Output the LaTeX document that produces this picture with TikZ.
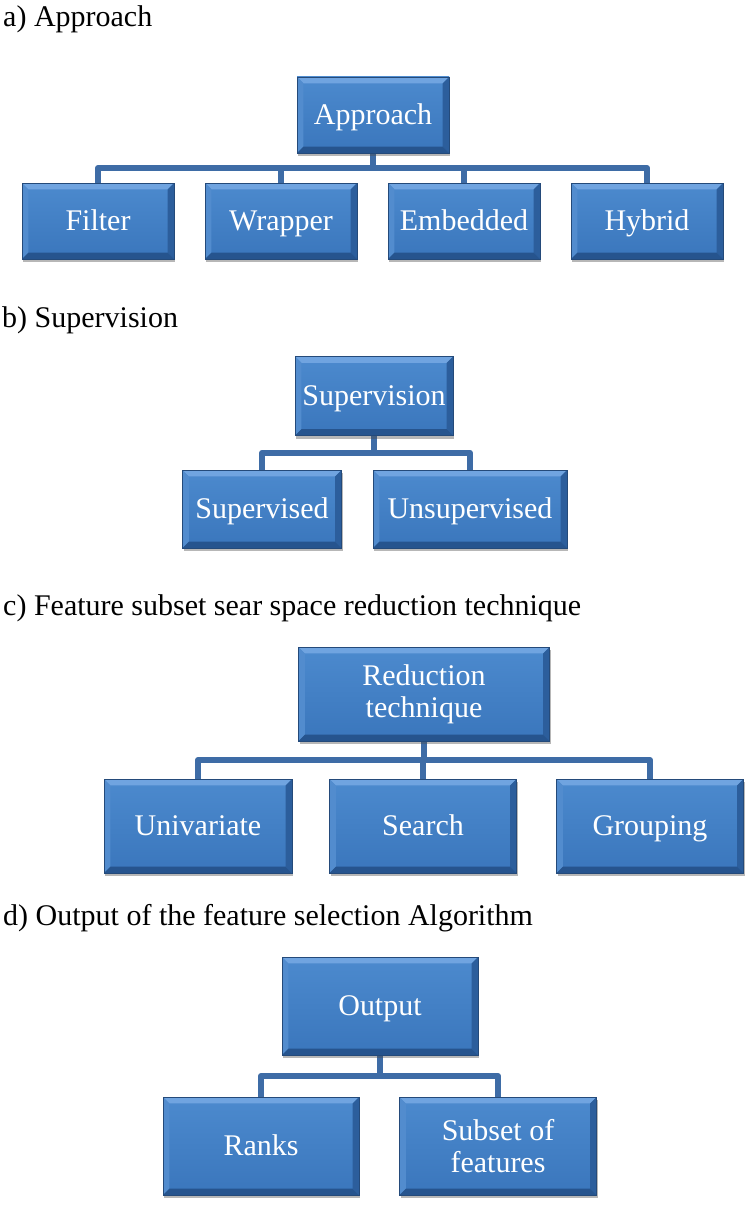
\documentclass[tikz,border=0pt]{standalone}
\usepackage{fontspec}
\setmainfont{Liberation Serif}
\usetikzlibrary{shadows, backgrounds, calc, positioning}
\definecolor{boxblue}{RGB}{58,118,188}
\definecolor{boxlite}{RGB}{76,138,206}
\definecolor{bevtop}{RGB}{112,164,224}
\definecolor{bevleft}{RGB}{82,140,206}
\definecolor{bevright}{RGB}{44,94,156}
\definecolor{bevbottom}{RGB}{38,84,142}
\definecolor{boxedge}{RGB}{36,74,122}
\definecolor{linkblue}{RGB}{62,108,166}
\newcommand{\bevw}{5.5pt}

\tikzset{
  bevelbox/.style 2 args={draw=boxedge, line width=0.6pt, top color=boxlite, bottom color=boxblue,
    minimum width=#1*0.3mm, minimum height=#2*0.3mm, inner sep=2pt,
    text=white, font=\rmfamily\fontsize{25.6}{27}\selectfont,
    text height=22pt, text depth=5pt,
    drop shadow={shadow xshift=1.2pt, shadow yshift=-2.6pt, opacity=0.4, fill=black!70},
    path picture={
      \path (path picture bounding box.north west) coordinate (pNW)
            (path picture bounding box.north east) coordinate (pNE)
            (path picture bounding box.south west) coordinate (pSW)
            (path picture bounding box.south east) coordinate (pSE);
      \fill[bevtop] (pNW) -- (pNE) -- ([xshift=-\bevw,yshift=-\bevw]pNE) -- ([xshift=\bevw,yshift=-\bevw]pNW) -- cycle;
      \fill[bevleft] (pNW) -- ([xshift=\bevw,yshift=-\bevw]pNW) -- ([xshift=\bevw,yshift=\bevw]pSW) -- (pSW) -- cycle;
      \fill[bevright] (pNE) -- ([xshift=-\bevw,yshift=-\bevw]pNE) -- ([xshift=-\bevw,yshift=\bevw]pSE) -- (pSE) -- cycle;
      \fill[bevbottom] (pSW) -- ([xshift=\bevw,yshift=\bevw]pSW) -- ([xshift=-\bevw,yshift=\bevw]pSE) -- (pSE) -- cycle;
    }},
  twolines/.style={align=center, text height={}, text depth={}},
  heading/.style={anchor=base west, inner sep=0pt, font=\rmfamily\fontsize{25.6}{27}\selectfont},
  link/.style={draw=linkblue, line width=5pt, line join=round}
}

\begin{document}
\begin{tikzpicture}[x=0.3mm, y=-0.3mm]
    \useasboundingbox (0,0) rectangle (755,1214);

    % a) approach
    \node[heading] (titleA) at (3,27) {a) Approach};
    \node[bevelbox={152}{76}] (approach) at (373,115) {Approach};
    \node[bevelbox={152}{76}] (filter) at (98,221) {Filter};
    \node[bevelbox={152}{76}] (wrapper) at (281,221) {Wrapper};
    \node[bevelbox={152}{76}] (embedded) at (464,221) {Embedded};
    \node[bevelbox={152}{76}] (hybrid) at (647,221) {Hybrid};

    % b) supervision
    \node[heading] (titleB) at (2,327) {b) Supervision};
    \node[bevelbox={158}{79}] (supervision) at (374,396) {Supervision};
    \node[bevelbox={159}{78}] (supervised) at (262,509) {Supervised};
    \node[bevelbox={194}{78}] (unsupervised) at (470,509) {Unsupervised};

    % c) reduction technique
    \node[heading] (titleC) at (3,615) {c) Feature subset sear space reduction technique};
    \node[bevelbox={251}{94}, twolines] (reduction) at (424,694) {Reduction\\technique};
    \node[bevelbox={188}{94}] (univariate) at (198,826) {Univariate};
    \node[bevelbox={187}{94}] (search) at (423,826) {Search};
    \node[bevelbox={187}{94}] (grouping) at (650,826) {Grouping};

    % d) output
    \node[heading] (titleD) at (3,925) {d) Output of the feature selection Algorithm};
    \node[bevelbox={196}{98}] (output) at (380,1006) {Output};
    \node[bevelbox={196}{98}] (ranks) at (261,1146) {Ranks};
    \node[bevelbox={197}{98}, twolines] (subset) at (498,1146) {Subset of\\features};

    % connectors behind the boxes
    \begin{scope}[on background layer]
        \fill[white] (0,0) rectangle (755,1214);
        \foreach \kid in {filter, wrapper, embedded, hybrid}
            \draw[link] (approach.south) -- ($(approach.south)!0.5!(approach.south |- \kid.north)$) -| (\kid.north);
        \foreach \kid in {supervised, unsupervised}
            \draw[link] (supervision.south) -- ($(supervision.south)!0.5!(supervision.south |- \kid.north)$) -| (\kid.north);
        \foreach \kid in {univariate, search, grouping}
            \draw[link] (reduction.south) -- ($(reduction.south)!0.5!(reduction.south |- \kid.north)$) -| (\kid.north);
        \foreach \kid in {ranks, subset}
            \draw[link] (output.south) -- ($(output.south)!0.5!(output.south |- \kid.north)$) -| (\kid.north);
    \end{scope}
\end{tikzpicture}
\end{document}
